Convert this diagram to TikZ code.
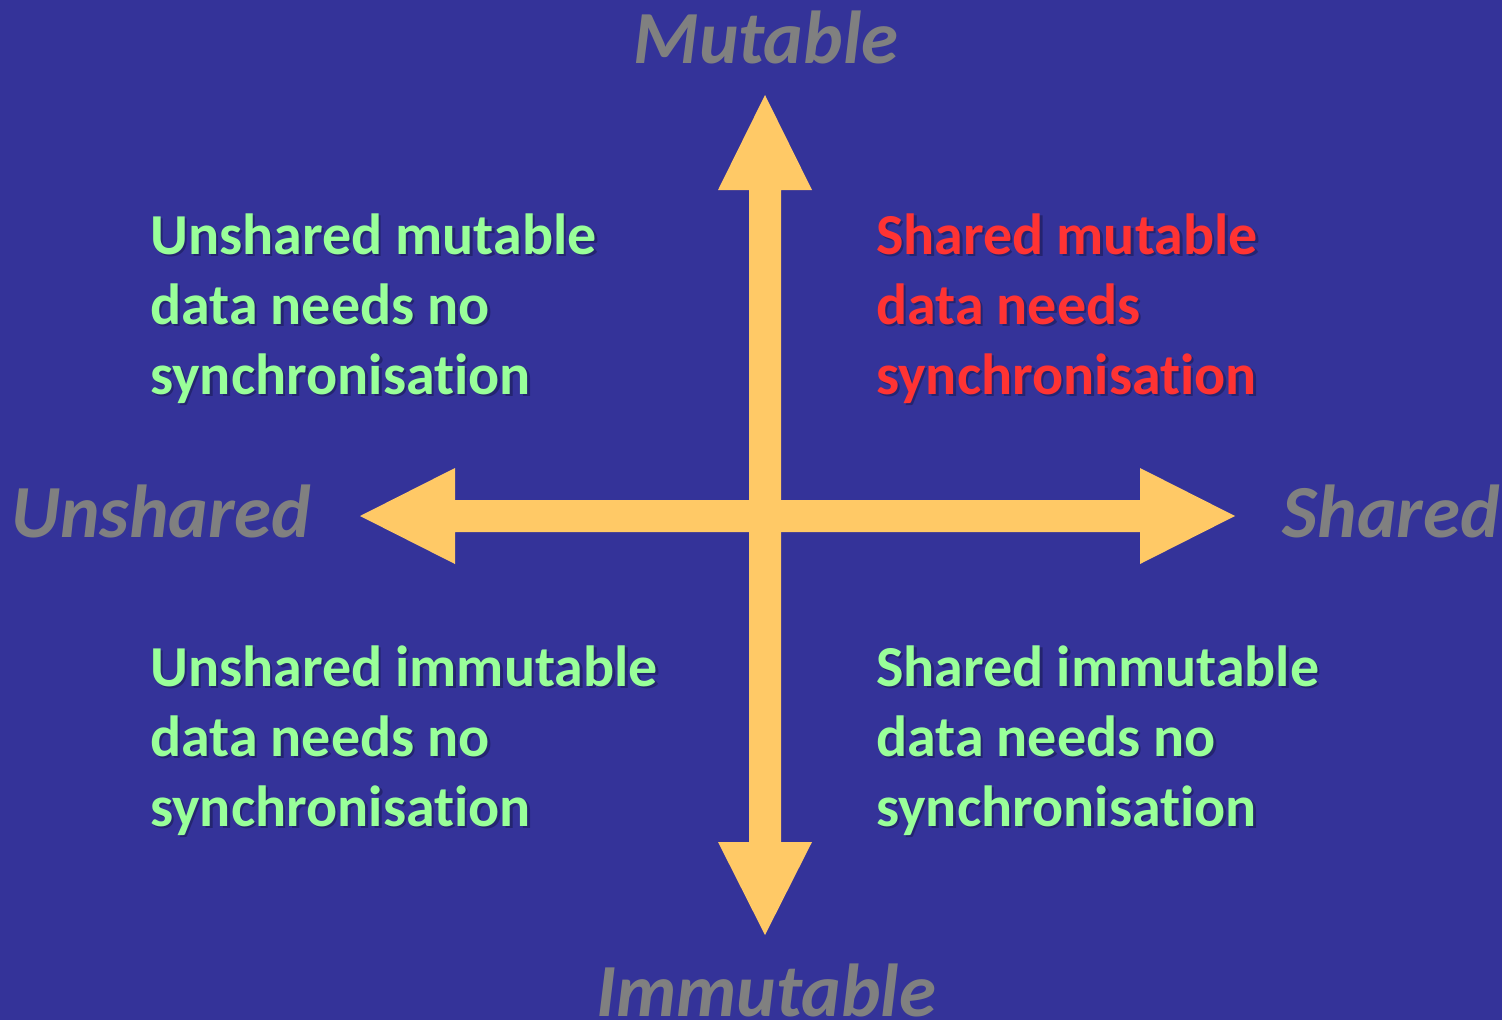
\documentclass[tikz,border=0pt]{standalone}
\usepackage{fontspec}
\setmainfont[Ligatures=NoCommon]{Carlito}
\definecolor{bg}{HTML}{343399}
\definecolor{arrowy}{HTML}{FFC966}
\definecolor{axisgrey}{HTML}{808080}
\definecolor{greentxt}{HTML}{99FF99}
\definecolor{redtxt}{HTML}{FF3333}
\definecolor{shadowc}{HTML}{1A1A55}
\tikzset{
  axislabel/.style={text=axisgrey, font=\fontsize{75}{80}\selectfont\bfseries\itshape, inner sep=0pt},
  quad/.style={font=\fontsize{58}{70}\selectfont\bfseries, align=left, inner sep=0pt, anchor=base west},
  arrowshape/.style={fill=arrowy, draw=none},
}
\begin{document}
\begin{tikzpicture}[x=1pt,y=-1pt]
\fill[bg] (0,0) rectangle (1502,1020);
\useasboundingbox (0,0) rectangle (1502,1020);
% vertical double arrow
\fill[arrowshape] (765,95) -- (812,190) -- (781,190) -- (781,842) -- (812,842) -- (765,935)
  -- (718,842) -- (749,842) -- (749,190) -- (718,190) -- cycle;
% horizontal double arrow
\fill[arrowshape] (360,516) -- (455,468) -- (455,500) -- (1140,500) -- (1140,468) -- (1235,516)
  -- (1140,564) -- (1140,532) -- (455,532) -- (455,564) -- cycle;
% axis labels
\node[axislabel, anchor=base] (mut) at (766,63) {Mutable};
\node[axislabel, anchor=base west] (unsh) at (11,537) {Unshared};
\node[axislabel, anchor=base east] (sh) at (1500,537) {Shared};
\node[axislabel, anchor=base] (imm) at (766,1016) {Immutable};
% quadrant texts (shadow then text); base anchor = last line baseline
\foreach \pos/\col/\txt/\nm in {
  {150,394}/greentxt/{Unshared mutable\\data needs no\\synchronisation}/q1,
  {876,394}/redtxt/{Shared mutable\\data needs\\synchronisation}/q2,
  {150,826}/greentxt/{Unshared immutable\\data needs no\\synchronisation}/q3,
  {876,826}/greentxt/{Shared immutable\\data needs no\\synchronisation}/q4}{
  \node[quad, text=shadowc, opacity=0.6, xshift=2.5pt, yshift=-2.5pt] (\nm s) at (\pos) {\txt};
  \node[quad, text=\col] (\nm) at (\pos) {\txt};
}
\end{tikzpicture}
\end{document}
